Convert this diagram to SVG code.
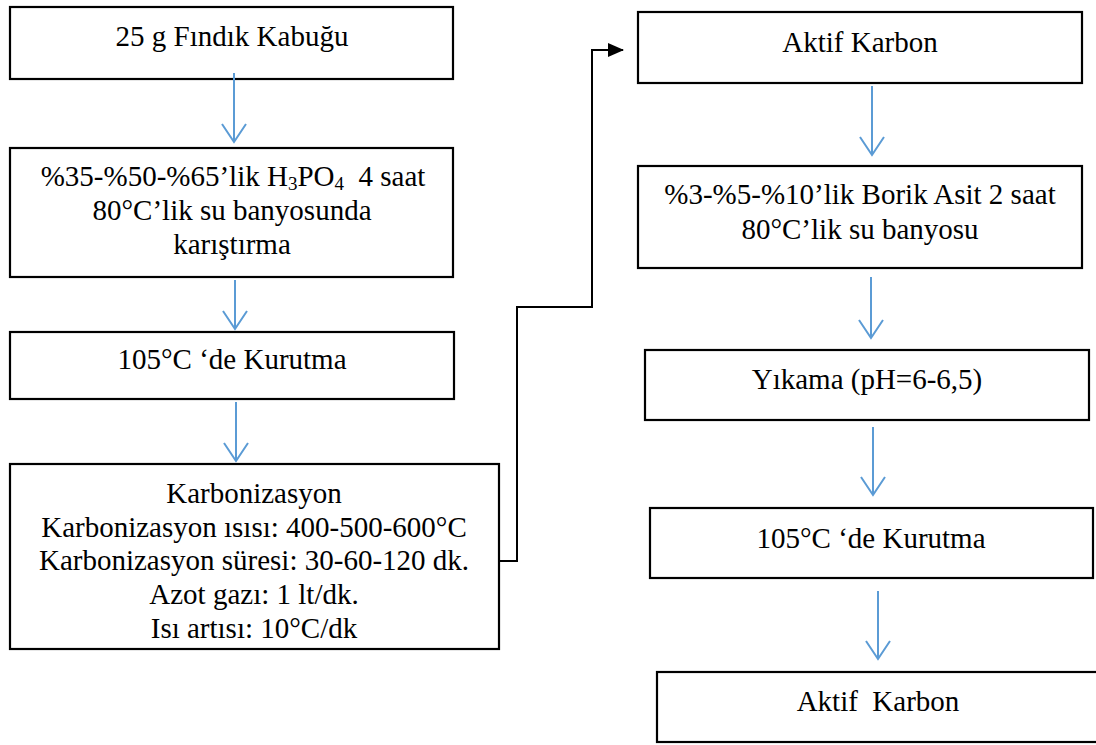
<svg xmlns="http://www.w3.org/2000/svg" width="1096" height="745" viewBox="0 0 1096 745">
<style>
.box{fill:#fff;stroke:#000;stroke-width:2.2}
text{font-family:"Liberation Serif","Times New Roman",serif;font-size:29px;fill:#000;text-anchor:middle}
.blue{stroke:#5B9BD5;stroke-width:2;fill:none}
.blk{stroke:#000;stroke-width:2;fill:none}
.sub{font-size:19px}
</style>
<defs>
<marker id="open" viewBox="0 0 21 26" refX="19" refY="13" markerWidth="21" markerHeight="26" markerUnits="userSpaceOnUse" orient="auto">
<path d="M1,1 L19,13 L1,25" fill="none" stroke="#5B9BD5" stroke-width="2"/>
</marker>
<marker id="solid" viewBox="0 0 16 14" refX="15" refY="7" markerWidth="16" markerHeight="14" markerUnits="userSpaceOnUse" orient="auto">
<path d="M0,0 L16,7 L0,14 Z" fill="#000"/>
</marker>
</defs>
<g id="n1"><rect class="box" x="10" y="7" width="443" height="72"/><text x="232" y="46">25 g Fındık Kabuğu</text></g>
<g id="n2"><rect class="box" x="10" y="148" width="443" height="129"/>
<text x="233" y="186">%35-%50-%65’lik H<tspan class="sub" dy="4">3</tspan><tspan dy="-4">PO</tspan><tspan class="sub" dy="4">4</tspan><tspan dy="-4" xml:space="preserve">  4 saat</tspan></text>
<text x="232" y="220">80°C’lik su banyosunda</text>
<text x="232" y="254">karıştırma</text></g>
<g id="n3"><rect class="box" x="10" y="332" width="444" height="67"/><text x="232" y="369">105°C ‘de Kurutma</text></g>
<g id="n4"><rect class="box" x="10" y="464" width="489" height="185"/>
<text x="254" y="503">Karbonizasyon</text>
<text x="254" y="537">Karbonizasyon ısısı: 400-500-600°C</text>
<text x="254" y="570">Karbonizasyon süresi: 30-60-120 dk.</text>
<text x="254" y="604">Azot gazı: 1 lt/dk.</text>
<text x="254" y="638">Isı artısı: 10°C/dk</text></g>
<g id="n5"><rect class="box" x="638" y="12" width="444" height="71"/><text x="860" y="52">Aktif Karbon</text></g>
<g id="n6"><rect class="box" x="638" y="166" width="444" height="102"/>
<text x="860" y="204">%3-%5-%10’lik Borik Asit 2 saat</text>
<text x="860" y="239">80°C’lik su banyosu</text></g>
<g id="n7"><rect class="box" x="645" y="350" width="444" height="70"/><text x="867" y="389">Yıkama (pH=6-6,5)</text></g>
<g id="n8"><rect class="box" x="650" y="508" width="443" height="70"/><text x="871" y="548">105°C ‘de Kurutma</text></g>
<g id="n9"><rect class="box" x="657" y="672" width="450" height="70"/><text x="878" y="711" xml:space="preserve">Aktif  Karbon</text></g>
<g id="connectors">
<line class="blue" x1="234" y1="73" x2="234" y2="142" marker-end="url(#open)"/>
<line class="blue" x1="235" y1="280" x2="235" y2="329" marker-end="url(#open)"/>
<line class="blue" x1="236" y1="402" x2="236" y2="461" marker-end="url(#open)"/>
<path class="blk" d="M499,561 H517 V307 H592 V50 H623" marker-end="url(#solid)"/>
<line class="blue" x1="872" y1="86" x2="872" y2="155" marker-end="url(#open)"/>
<line class="blue" x1="871" y1="277" x2="871" y2="338" marker-end="url(#open)"/>
<line class="blue" x1="873" y1="427" x2="873" y2="495" marker-end="url(#open)"/>
<line class="blue" x1="878" y1="591" x2="878" y2="659" marker-end="url(#open)"/>
</g>
</svg>
